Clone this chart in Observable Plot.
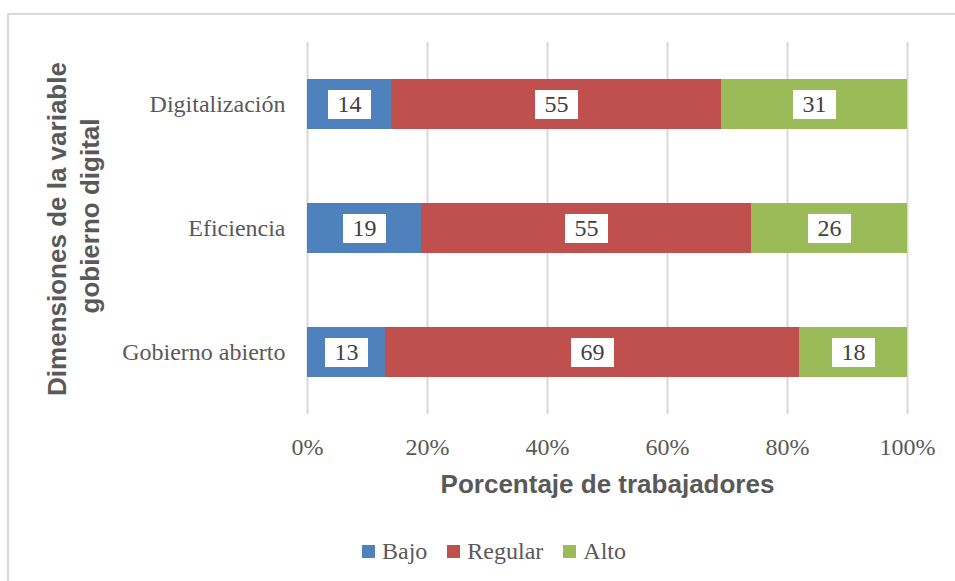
<!DOCTYPE html>
<html>
<head>
<meta charset="utf-8">
<script src="https://cdn.jsdelivr.net/npm/d3@7"></script>
<script src="https://cdn.jsdelivr.net/npm/@observablehq/plot@0.6"></script>
<style>
  html, body { margin: 0; padding: 0; background: #fff; overflow: hidden; width: 955px; height: 581px; }
  #wrap { position: relative; width: 955px; height: 581px; }
  #frame { position: absolute; left: 7px; top: 13px; width: 1000px; height: 1000px;
           border-top: 2px solid #d9d9d9; border-left: 2px solid #d9d9d9; box-sizing: border-box; }
  #chart { position: absolute; left: 0; top: 0; }
  #legend { position: absolute; left: 362px; top: 538px; display: flex; align-items: center;
            font-family: "Liberation Serif", serif; font-size: 24px; color: #595959; }
  .item { display: flex; align-items: center; margin-right: 20px; }
  .sw { width: 13px; height: 13px; margin-right: 7px; }
  .ytitle { position: absolute; width: 400px; height: 30px; line-height: 30px; text-align: center;
            font-family: "Liberation Sans", Arial, sans-serif; font-weight: bold; font-size: 26px;
            color: #595959; transform: translate(-50%, -50%) rotate(-90deg); white-space: nowrap; }
</style>
</head>
<body>
<div id="wrap">
  <div id="frame"></div>
  <div id="chart"></div>
  <div id="ytitle1" class="ytitle" style="left:57px; top:229px;"></div>
  <div id="ytitle2" class="ytitle" style="left:90px; top:216px;"></div>
  <div id="legend"></div>
</div>
<script>
const dimensions = ["Digitalización", "Eficiencia", "Gobierno abierto"];
const levels = ["Bajo", "Regular", "Alto"];
const colors = ["#4f81bd", "#c0504d", "#9bbb59"];
const bajo = [14, 19, 13];
const regular = [55, 55, 69];
const alto = [31, 26, 18];
const xTicks = [0, 20, 40, 60, 80, 100];
const xTitle = "Porcentaje de trabajadores";
const yTitle = ["Dimensiones de la variable", "gobierno digital"];

const series = [bajo, regular, alto];
const data = [];
dimensions.forEach((d, i) => {
  levels.forEach((l, j) => data.push({dim: d, level: l, value: series[j][i]}));
});

const box = {draw(ctx) { ctx.rect(-21.5, -14.5, 43, 29); }};

const chart = Plot.plot({
  width: 955,
  height: 520,
  marginLeft: 307,
  marginRight: 48,
  marginTop: 42,
  marginBottom: 106,
  style: {fontFamily: "Liberation Serif, serif", fontSize: "24px", color: "#595959", background: "transparent"},
  x: {domain: [0, 100], axis: null},
  y: {domain: dimensions, paddingInner: 0.6, paddingOuter: 0.3, axis: null},
  color: {domain: levels, range: colors},
  marks: [
    Plot.ruleX(xTicks, {x: d => d, stroke: "#d9d9d9", strokeWidth: 2}),
    Plot.barX(data, {x: "value", y: "dim", fill: "level", order: levels}),
    Plot.dot(data, Plot.stackX({x: "value", y: "dim", z: "level", order: levels, symbol: box, r: 10, fill: "white", stroke: null})),
    Plot.text(data, Plot.stackX({x: "value", y: "dim", z: "level", order: levels, text: d => String(d.value), fill: "#404040", fontSize: 24, lineAnchor: "middle"})),
    Plot.axisX({ticks: xTicks, tickFormat: d => d + "%", tickSize: 0, tickPadding: 23, fontSize: 24, fill: "#595959", label: null}),
    Plot.axisY({tickSize: 0, tickPadding: 22, fontSize: 24, fill: "#595959", label: null}),
    Plot.text([xTitle], {frameAnchor: "bottom", dy: 70, text: d => d, fontFamily: "Liberation Sans, Arial, sans-serif", fontWeight: "bold", fontSize: 26, fill: "#595959", lineAnchor: "middle"})
  ]
});
document.getElementById("chart").appendChild(chart);

document.getElementById("ytitle1").textContent = yTitle[0];
document.getElementById("ytitle2").textContent = yTitle[1];

const legend = document.getElementById("legend");
levels.forEach((l, i) => {
  const it = document.createElement("div");
  it.className = "item";
  const sw = document.createElement("div");
  sw.className = "sw";
  sw.style.background = colors[i];
  const tx = document.createElement("span");
  tx.textContent = l;
  it.appendChild(sw);
  it.appendChild(tx);
  legend.appendChild(it);
});
</script>
</body>
</html>
